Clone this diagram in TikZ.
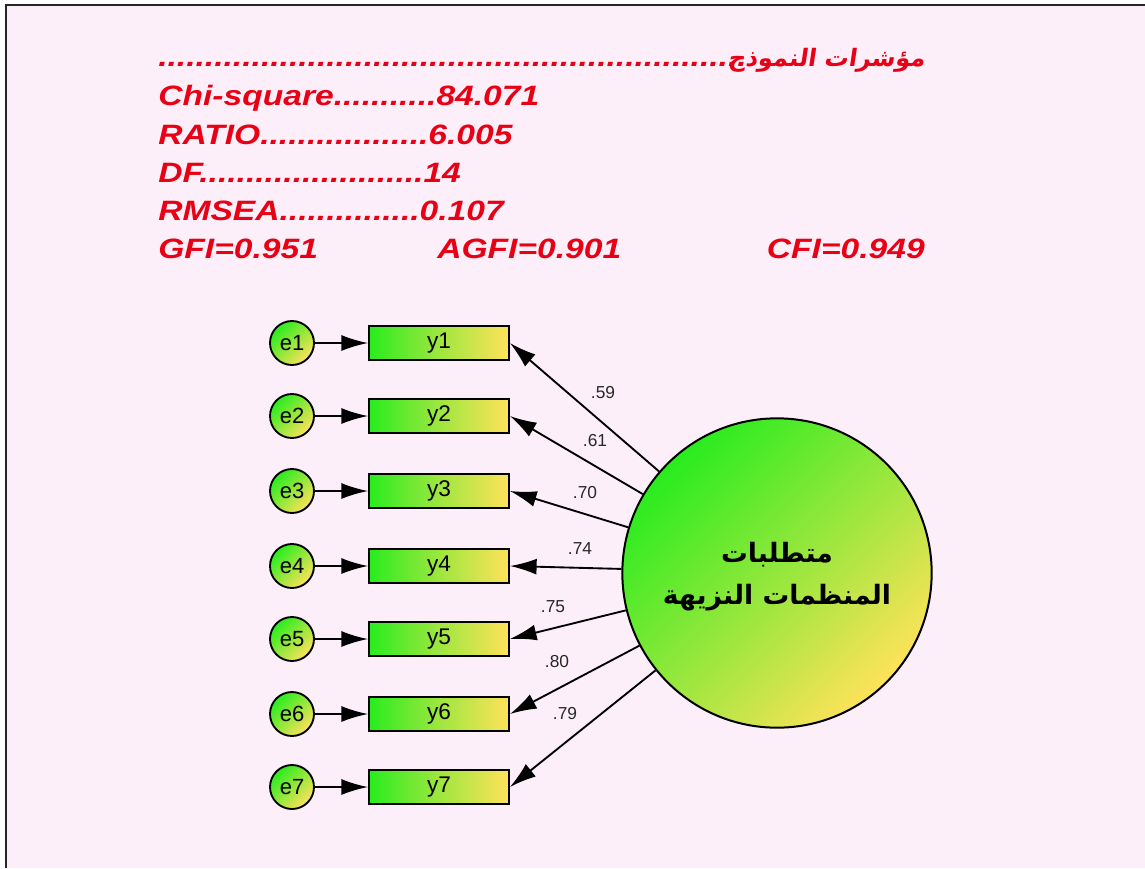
\documentclass[tikz,border=0pt]{standalone}
\usepackage{fontspec}
\usepackage{graphicx}
\setmainfont{Liberation Sans}
\newfontfamily\arabicfont[Script=Arabic]{DejaVu Sans}
\newfontfamily\arabichead[Script=Arabic,FakeSlant=0.15]{DejaVu Sans Bold}
\TeXXeTstate=1
\usetikzlibrary{arrows.meta}
\definecolor{bgpink}{RGB}{252,239,249}
\definecolor{hdred}{RGB}{232,0,20}
\definecolor{gr}{RGB}{40,236,30}
\definecolor{ye}{RGB}{255,226,90}
\definecolor{lbl}{RGB}{40,40,40}
\newcommand{\wide}[1]{\scalebox{1.2}[1]{#1}}
\tikzset{
  hdr/.style={anchor=base west, inner sep=0pt, text=hdred, font=\fontsize{21}{24}\selectfont\bfseries\itshape},
  errc/.style={circle, draw=black, line width=1.4pt, minimum size=33pt, inner sep=0pt,
    top color=gr, bottom color=ye, shading angle=45, font=\fontsize{16.5}{19}\selectfont},
  obs/.style={rectangle, draw=black, line width=1.4pt, minimum width=105pt, minimum height=26pt, inner sep=0pt,
    left color=gr, right color=ye, middle color=ye!55!gr, font=\fontsize{17}{20}\selectfont},
  lat/.style={circle, draw=black, line width=1.5pt, minimum size=232pt, inner sep=0pt,
    top color=gr, bottom color=ye, shading angle=45},
  arr/.style={-{Latex[length=20pt,width=12pt]}, line width=1.4pt},
  load/.style={font=\fontsize{13}{15}\selectfont, text=lbl, inner sep=0pt}
}
\begin{document}
\begin{tikzpicture}[x=0.75pt,y=-0.75pt]
\useasboundingbox (0,0) rectangle (1145,868);
\fill[white] (0,0) rectangle (1145,868);
\fill[bgpink] (6,5) rectangle (1145,868);
\draw[line width=1.6pt, black!85] (6,868) -- (6,5) -- (1145,5);
% header
\node[hdr] (h0) at (158,66) {\wide{...............................................................}};
\node[anchor=base east, inner sep=0pt, text=hdred] (h0a) at (925,66) {\fontsize{18}{21}\selectfont\arabichead\beginR مؤشرات النموذج\endR};
\node[hdr] (h1) at (158,105) {\wide{Chi-square...........84.071}};
\node[hdr] (h2) at (158,144) {\wide{RATIO..................6.005}};
\node[hdr] (h3) at (158,182) {\wide{DF........................14}};
\node[hdr] (h4) at (158,220) {\wide{RMSEA...............0.107}};
\node[hdr] (h5) at (158,258) {\wide{GFI=0.951}};
\node[hdr] (h6) at (437,258) {\wide{AGFI=0.901}};
\node[hdr, anchor=base east] (h7) at (925,258) {\wide{CFI=0.949}};
% latent
\node[lat] (L) at (777,573) {};
\node[font=\fontsize{20}{23}\selectfont\arabicfont\bfseries] (Lt1) at (777,555) {\beginR متطلبات\endR};
\node[font=\fontsize{20}{23}\selectfont\arabicfont\bfseries] (Lt2) at (777,598) {\beginR المنظمات النزيهة\endR};
% observed
\foreach \i/\yy in {1/343,2/416,3/491,4/566,5/639,6/714,7/787}{
  \node[errc] (e\i) at (292,\yy) {e\i};
  \node[obs] (y\i) at (439,\yy) {y\i};
  \draw[arr] (e\i) -- (y\i);
  \draw[arr] (L) -- (y\i.east);
}
% loadings
\node[load] (l1) at (603,393) {.59};
\node[load] (l2) at (595,441) {.61};
\node[load] (l3) at (585,493) {.70};
\node[load] (l4) at (580,549) {.74};
\node[load] (l5) at (553,607) {.75};
\node[load] (l6) at (557,662) {.80};
\node[load] (l7) at (565,714) {.79};
\end{tikzpicture}
\end{document}
